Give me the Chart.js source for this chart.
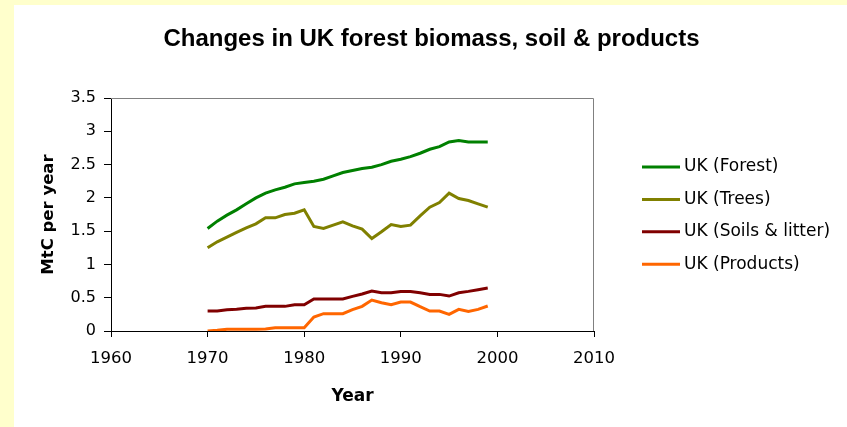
<!DOCTYPE html>
<html>
<head>
<meta charset="utf-8">
<script src="https://cdn.jsdelivr.net/npm/chart.js@4.4.0/dist/chart.umd.min.js"></script>
<style>
  html, body { margin: 0; padding: 0; background: #FFFFCC; }
  #wrap { position: absolute; left: 14px; top: 5px; width: 833px; height: 422px; background: #fff; }
</style>
</head>
<body>
<div id="wrap"><canvas id="chart" width="833" height="422"></canvas></div>
<script>
const chartTitle = "Changes in UK forest biomass, soil & products"
const xTitle = "Year"
const yTitle = "MtC per year"

const years = [1970, 1971, 1972, 1973, 1974, 1975, 1976, 1977, 1978, 1979,
               1980, 1981, 1982, 1983, 1984, 1985, 1986, 1987, 1988, 1989,
               1990, 1991, 1992, 1993, 1994, 1995, 1996, 1997, 1998, 1999]

const forest = [1.54, 1.65, 1.74, 1.82, 1.91, 2.00, 2.07, 2.12, 2.16, 2.21,
                2.23, 2.25, 2.28, 2.33, 2.38, 2.41, 2.44, 2.46, 2.50, 2.55,
                2.58, 2.62, 2.67, 2.73, 2.77, 2.84, 2.86, 2.84, 2.84, 2.84]
const trees = [1.25, 1.34, 1.41, 1.48, 1.55, 1.61, 1.70, 1.70, 1.75, 1.77,
               1.82, 1.57, 1.54, 1.59, 1.64, 1.58, 1.53, 1.39, 1.49, 1.60,
               1.57, 1.59, 1.73, 1.86, 1.93, 2.07, 1.99, 1.96, 1.91, 1.86]
const soils = [0.30, 0.30, 0.32, 0.325, 0.34, 0.345, 0.37, 0.37, 0.37, 0.395,
               0.395, 0.48, 0.48, 0.48, 0.48, 0.52, 0.555, 0.60, 0.575, 0.575,
               0.595, 0.595, 0.575, 0.55, 0.55, 0.525, 0.575, 0.595, 0.62, 0.645]
const products = [0, 0.01, 0.025, 0.025, 0.025, 0.025, 0.03, 0.05, 0.05, 0.05,
                  0.05, 0.21, 0.26, 0.26, 0.26, 0.32, 0.37, 0.465, 0.425, 0.395,
                  0.435, 0.435, 0.365, 0.30, 0.30, 0.25, 0.325, 0.295, 0.325, 0.375]

const seriesNames = ["UK (Forest)", "UK (Trees)", "UK (Soils & litter)", "UK (Products)"]
const seriesColors = ["#008000", "#808000", "#800000", "#FF6600"]
const seriesValues = [forest, trees, soils, products]

const FONT = "'DejaVu Sans', Arial, sans-serif"

// top/right frame of the plot, title and right-hand legend
const decor = {
  id: "decor",
  beforeDatasetsDraw(chart) {
    const { ctx, chartArea: a } = chart
    ctx.save()
    ctx.strokeStyle = "#808080"
    ctx.lineWidth = 1
    ctx.beginPath()
    ctx.moveTo(a.left, a.top + 0.5)
    ctx.lineTo(a.right - 0.5, a.top + 0.5)
    ctx.lineTo(a.right - 0.5, a.bottom)
    ctx.stroke()
    ctx.restore()
  },
  afterDraw(chart) {
    const ctx = chart.ctx
    ctx.save()
    ctx.fillStyle = "#000"
    ctx.textBaseline = "middle"
    ctx.textAlign = "center"
    ctx.font = "bold 24px 'Liberation Sans', Arial, sans-serif"
    ctx.fillText(chartTitle, 417.5, 34)

    ctx.textAlign = "left"
    ctx.font = "17px " + FONT
    chart.data.datasets.forEach((ds, i) => {
      const y = 162 + i * 32.4
      ctx.strokeStyle = ds.borderColor
      ctx.lineWidth = 3
      ctx.beginPath()
      ctx.moveTo(628, y)
      ctx.lineTo(666, y)
      ctx.stroke()
      ctx.fillText(ds.label, 670, y)
    })
    ctx.restore()
  }
}

new Chart(document.getElementById("chart"), {
  type: "line",
  data: {
    datasets: seriesNames.map((name, i) => ({
      label: name,
      data: years.map((yr, j) => ({ x: yr, y: seriesValues[i][j] })),
      borderColor: seriesColors[i],
      backgroundColor: seriesColors[i],
      borderWidth: 3,
      pointRadius: 0,
      tension: 0,
      fill: false
    }))
  },
  options: {
    responsive: false,
    animation: false,
    layout: { padding: { top: 93, right: 253, bottom: 0, left: 0 } },
    plugins: {
      legend: { display: false },
      title: { display: false },
      tooltip: { enabled: false }
    },
    scales: {
      x: {
        type: "linear",
        min: 1960,
        max: 2010,
        afterFit: s => { s.height = 96 },
        ticks: {
          stepSize: 10,
          color: "#000",
          padding: 12,
          font: { family: FONT, size: 16.5 },
          callback: v => String(v)
        },
        grid: { drawOnChartArea: false, drawTicks: true, tickLength: 6, color: "#000" },
        border: { display: true, color: "#000", width: 1 },
        title: {
          display: true,
          text: xTitle,
          color: "#000",
          font: { family: FONT, size: 17, weight: "bold" },
          padding: { top: 0, bottom: 20 }
        }
      },
      y: {
        min: 0,
        max: 3.5,
        afterFit: s => { s.width = 97 },
        ticks: {
          stepSize: 0.5,
          color: "#000",
          padding: 8,
          font: { family: FONT, size: 16 },
          callback: v => String(v)
        },
        grid: { drawOnChartArea: false, drawTicks: true, tickLength: 7, color: "#000" },
        border: { display: true, color: "#000", width: 1 },
        title: {
          display: true,
          text: yTitle,
          color: "#000",
          font: { family: FONT, size: 16.5, weight: "bold" },
          padding: { top: 24.5, bottom: 0 }
        }
      }
    }
  },
  plugins: [decor]
})
</script>
</body>
</html>
